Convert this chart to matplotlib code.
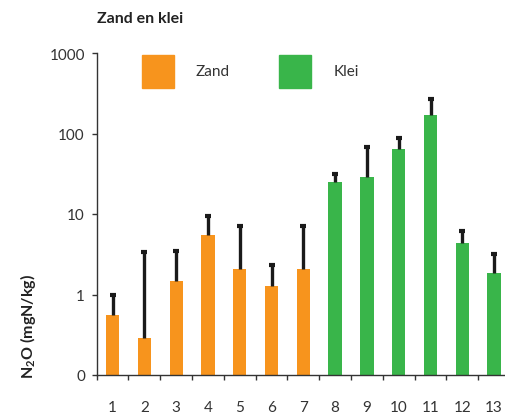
import numpy as np
import matplotlib
matplotlib.use("Agg")
import matplotlib.pyplot as plt
from matplotlib.patches import Rectangle
from matplotlib.ticker import FixedLocator, NullLocator

plt.rcParams['font.family'] = ['Lato', 'DejaVu Sans']
plt.rcParams['mathtext.fontset'] = 'custom'
plt.rcParams['mathtext.rm'] = 'Lato'
plt.rcParams['mathtext.bf'] = 'Lato:bold'

# data
monsters = ['1', '2', '3', '4', '5', '6', '7', '8', '9', '10', '11', '12', '13']
grondsoort = ['Zand'] * 7 + ['Klei'] * 6
n2o = [0.56, 0.29, 1.47, 5.56, 2.10, 1.28, 2.10, 24.9, 28.7, 64.6, 172, 4.35, 1.86]
n2o_boven = [1.0, 3.36, 3.49, 9.4, 7.1, 2.34, 7.1, 31, 67.8, 89, 270, 6.1, 3.14]

kleuren = {'Zand': '#F7941D', 'Klei': '#39B54A'}
tekst = '#333333'

fig = plt.figure(figsize=(5.06, 4.14), dpi=100)
ax = fig.add_axes([96.7 / 506, 38 / 414, 413.3 / 506, 322 / 414])

x = np.arange(1, len(monsters) + 1)
ax.bar(x, n2o, width=0.42, color=[kleuren[g] for g in grondsoort], zorder=2)

# alleen bovenste foutbalk
ax.vlines(x, n2o, n2o_boven, color='#1a1a1a', linewidth=2.4, zorder=3)
ax.plot(x, n2o_boven, linestyle='none', marker='_', markersize=4.5,
        markeredgewidth=3, color='#1a1a1a', zorder=3)

ax.set_yscale('log')
ax.set_ylim(0.1, 1000)
ax.set_xlim(0.5, len(monsters) + 0.5)
ax.yaxis.set_major_locator(FixedLocator([0.1, 1, 10, 100, 1000]))
ax.yaxis.set_minor_locator(NullLocator())
ax.set_yticklabels(['0', '1', '10', '100', '1000'])

ax.set_xticks(x)
ax.set_xticklabels(monsters)
ax.xaxis.set_minor_locator(FixedLocator(np.arange(0.5, len(monsters) + 0.6, 1)))

ax.tick_params(axis='x', which='major', length=0, pad=18, labelsize=11, colors=tekst)
ax.tick_params(axis='x', which='minor', length=3.5, width=1, color=tekst)
ax.tick_params(axis='y', which='major', length=3.5, width=1, pad=5, labelsize=11, colors=tekst)

for s in ['top', 'right']:
    ax.spines[s].set_visible(False)
for s in ['left', 'bottom']:
    ax.spines[s].set_color(tekst)
    ax.spines[s].set_linewidth(1.0)

# legenda
for kx, tx, naam in [(142, 196, 'Zand'), (279, 334, 'Klei')]:
    fig.add_artist(Rectangle((kx / 506, 1 - 89 / 414), 32 / 506, 33 / 414,
                             transform=fig.transFigure, color=kleuren[naam]))
    fig.text(tx / 506, 1 - 72 / 414, naam, ha='left', va='center',
             fontsize=11, color=tekst)

fig.text(97 / 506, 1 - 19 / 414, 'Zand en klei', ha='left', va='center',
         fontsize=11.5, fontweight='bold', color='#222222')
fig.text(28 / 506, 1 - 326 / 414, r'N$_\mathbf{2}$O (mgN/kg)', rotation=90,
         ha='center', va='center', fontsize=11.5, fontweight='bold', color='#222222')

fig.savefig('out.png', dpi=100)
